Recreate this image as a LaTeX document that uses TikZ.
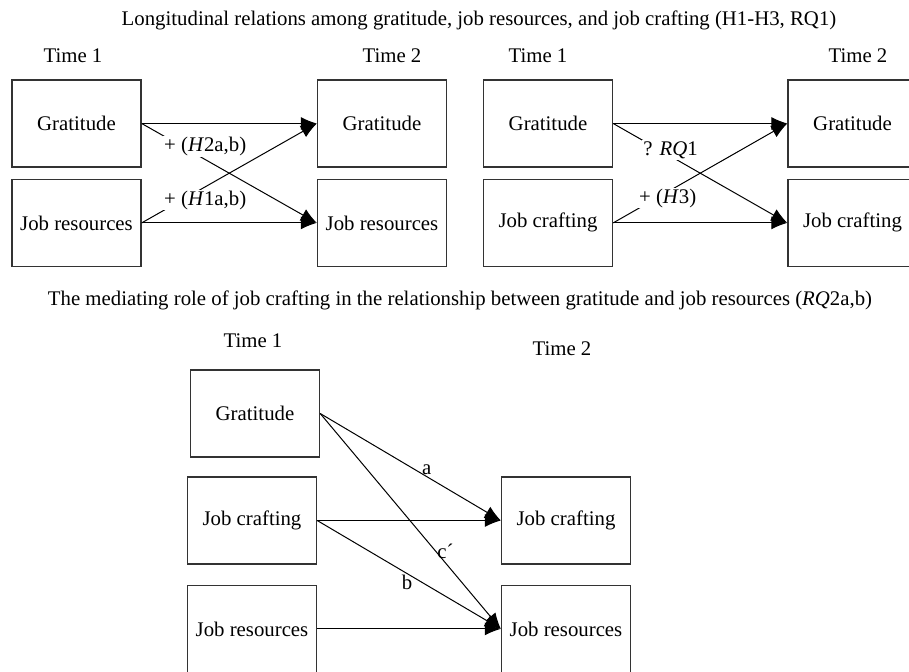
\documentclass[tikz,border=0pt]{standalone}
\usepackage{fontspec}
\setmainfont{Liberation Serif}
\usetikzlibrary{arrows.meta, positioning}
\newcommand{\figfont}{\fontsize{10.4}{12}\selectfont}
\tikzset{
    var_node/.style={
        draw=black!80,
        line width=0.7pt,
        minimum width=64.5pt,
        minimum height=43.5pt,
        inner sep=1pt,
        align=center,
        font=\figfont
    },
    path_arrow/.style={
        -{Latex[length=8pt,width=6.5pt]},
        line width=0.5pt,
        draw=black
    },
    time_label/.style={
        anchor=base,
        inner sep=0pt,
        font=\figfont
    },
    path_label/.style={
        inner sep=0.5pt,
        font=\figfont
    }
}

\begin{document}
\begin{tikzpicture}[x=0.5pt, y=-0.5pt, node distance=5.5pt]
\useasboundingbox (0,0) rectangle (909,672);

% Titles
\node[time_label] (title_top) at (479,26) {Longitudinal relations among gratitude, job resources, and job crafting (H1-H3, RQ1)};
\node[time_label] (title_bottom) at (460,306) {The mediating role of job crafting in the relationship between gratitude and job resources (\textit{RQ}2a,b)};

% Time labels
\node[time_label] (t1_left) at (73,63) {Time 1};
\node[time_label] (t2_left) at (392,63) {Time 2};
\node[time_label] (t1_right) at (538,63) {Time 1};
\node[time_label] (t2_right) at (858,63) {Time 2};
\node[time_label] (t1_bottom) at (253,348) {Time 1};
\node[time_label] (t2_bottom) at (562,356) {Time 2};

% Gratitude and job resources
\node[var_node] (grat_a1) at (76.5,123.5) {Gratitude};
\node[var_node, below=of grat_a1] (res_a1) {Job resources};
\node[var_node] (grat_a2) at (382,123.5) {Gratitude};
\node[var_node, below=of grat_a2] (res_a2) {Job resources};

\draw[path_arrow] (grat_a1.east) -- (grat_a2.west);
\draw[path_arrow] (res_a1.east) -- (res_a2.west);
\draw[path_arrow] (grat_a1.east) -- (res_a2.west)
    node[path_label, pos=0.12, anchor=north west, fill=white] {+ (\textit{H}2a,b)};
\draw[path_arrow] (res_a1.east) -- (grat_a2.west)
    node[path_label, pos=0.12, anchor=south west, fill=white] {+ (\textit{H}1a,b)};

% Gratitude and job crafting
\node[var_node] (grat_b1) at (548,123.5) {Gratitude};
\node[var_node, below=of grat_b1] (craft_b1) {Job crafting};
\node[var_node] (grat_b2) at (852.5,123.5) {Gratitude};
\node[var_node, below=of grat_b2] (craft_b2) {Job crafting};

\draw[path_arrow] (grat_b1.east) -- (grat_b2.west);
\draw[path_arrow] (craft_b1.east) -- (craft_b2.west);
\draw[path_arrow] (grat_b1.east) -- (craft_b2.west)
    node[path_label, pos=0.165, anchor=north west, fill=white] {? \textit{RQ}1};
\draw[path_arrow] (craft_b1.east) -- (grat_b2.west)
    node[path_label, pos=0.14, anchor=south west, fill=white] {+ (\textit{H}3)};

% Mediation model
\node[var_node] (grat_c1) at (255,413.5) {Gratitude};
\node[var_node] (craft_c1) at (252,520.5) {Job crafting};
\node[var_node, below=10pt of craft_c1] (res_c1) {Job resources};
\node[var_node] (craft_c2) at (566,520.5) {Job crafting};
\node[var_node, below=10pt of craft_c2] (res_c2) {Job resources};

\draw[path_arrow] (grat_c1.east) -- (craft_c2.west)
    node[path_label, pos=0.59, above] {a};
\draw[path_arrow] (grat_c1.east) -- (res_c2.west)
    node[path_label, pos=0.64, right] {c´};
\draw[path_arrow] (craft_c1.east) -- (craft_c2.west);
\draw[path_arrow] (craft_c1.east) -- (res_c2.west)
    node[path_label, pos=0.49, below] {b};
\draw[path_arrow] (res_c1.east) -- (res_c2.west);

\end{tikzpicture}
\end{document}
